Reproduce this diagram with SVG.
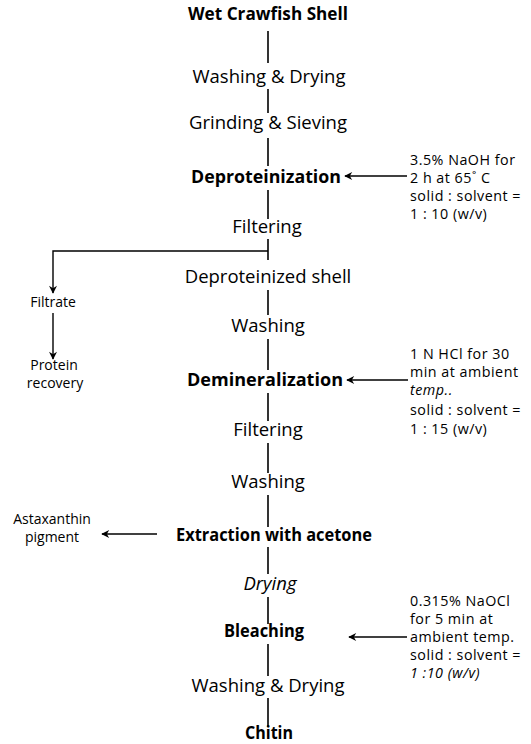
<svg xmlns="http://www.w3.org/2000/svg" width="531" height="744" viewBox="0 0 531 744">
<defs>
<marker id="ah" viewBox="0 0 10 10" refX="9" refY="5" markerWidth="9" markerHeight="8" markerUnits="userSpaceOnUse" orient="auto">
<path d="M0,0 L10,5 L0,10 L3,5 Z" fill="#000"/>
</marker>
<style>
.s{font-family:"Open Sans","Noto Sans",sans-serif;font-size:18.5px;fill:#000;text-anchor:middle}
.b{font-family:"Open Sans","Noto Sans",sans-serif;font-size:17px;font-weight:bold;fill:#000;text-anchor:middle}
.n{font-family:"Open Sans","Noto Sans",sans-serif;font-size:14.3px;letter-spacing:0.5px;fill:#000}
.l{font-family:"Open Sans","Noto Sans",sans-serif;font-size:14px;fill:#000;text-anchor:middle}
.i{font-style:italic}
.c{stroke:#000;stroke-width:1.6;fill:none}
.a{stroke:#000;stroke-width:1.4;fill:none;marker-end:url(#ah)}
</style>
</defs>
<rect width="531" height="744" fill="#fff"/>
<g id="connectors">
<line class="c" x1="268" y1="31" x2="268" y2="63"/>
<line class="c" x1="268" y1="89" x2="268" y2="113"/>
<line class="c" x1="268" y1="138" x2="268" y2="166"/>
<line class="a" x1="407" y1="176" x2="345" y2="176"/>
<line class="c" x1="268" y1="190" x2="268" y2="219"/>
<line class="c" x1="268" y1="239" x2="268" y2="260"/>
<polyline class="a" points="268,251 53,251 53,293"/>
<line class="a" x1="53" y1="313" x2="53" y2="359"/>
<line class="c" x1="268" y1="290" x2="268" y2="315"/>
<line class="c" x1="268" y1="339" x2="268" y2="370"/>
<line class="a" x1="408" y1="380" x2="347" y2="380"/>
<line class="c" x1="268" y1="393" x2="268" y2="421"/>
<line class="c" x1="268" y1="443" x2="268" y2="473"/>
<line class="c" x1="268" y1="495" x2="268" y2="527"/>
<line class="a" x1="157" y1="534" x2="102" y2="534"/>
<line class="c" x1="268" y1="547" x2="268" y2="574"/>
<line class="c" x1="268" y1="597" x2="268" y2="624"/>
<line class="a" x1="407" y1="637" x2="349" y2="637"/>
<line class="c" x1="268" y1="644" x2="268" y2="676"/>
<line class="c" x1="268" y1="698" x2="268" y2="727"/>
</g>
<g id="wet-crawfish-shell"><text class="b" x="268" y="20" textLength="160" lengthAdjust="spacingAndGlyphs">Wet Crawfish Shell</text></g>
<g id="washing-drying-1"><text class="s" x="269" y="83">Washing &amp; Drying</text></g>
<g id="grinding-sieving"><text class="s" x="268" y="129">Grinding &amp; Sieving</text></g>
<g id="deproteinization"><text class="b" x="266" y="183" textLength="150" lengthAdjust="spacingAndGlyphs">Deproteinization</text></g>
<g id="naoh-conditions"><text class="n" x="410" y="165">3.5% NaOH for</text><text class="n" x="410" y="183">2 h at 65˚ C</text><text class="n" x="410" y="201">solid : solvent =</text><text class="n" x="410" y="219">1 : 10 (w/v)</text></g>
<g id="filtering-1"><text class="s" x="267" y="233">Filtering</text></g>
<g id="filtrate"><text class="l" x="53" y="307">Filtrate</text></g>
<g id="protein-recovery"><text class="l" x="54" y="370">Protein</text><text class="l" x="55" y="388">recovery</text></g>
<g id="deproteinized-shell"><text class="s" x="268" y="283">Deproteinized shell</text></g>
<g id="washing-1"><text class="s" x="268" y="332">Washing</text></g>
<g id="demineralization"><text class="b" x="265" y="386" textLength="156" lengthAdjust="spacingAndGlyphs">Demineralization</text></g>
<g id="hcl-conditions"><text class="n" x="410" y="359">1 N HCl for 30</text><text class="n" x="410" y="377">min at ambient</text><text class="n i" x="410" y="395">temp..</text><text class="n" x="410" y="415">solid : solvent =</text><text class="n" x="410" y="434">1 : 15 (w/v)</text></g>
<g id="filtering-2"><text class="s" x="268" y="436">Filtering</text></g>
<g id="washing-2"><text class="s" x="268" y="488">Washing</text></g>
<g id="extraction"><text class="b" x="274" y="541" textLength="196" lengthAdjust="spacingAndGlyphs">Extraction with acetone</text></g>
<g id="astaxanthin"><text class="l" x="52" y="524">Astaxanthin</text><text class="l" x="52" y="542">pigment</text></g>
<g id="drying"><text class="s i" x="270" y="590">Drying</text></g>
<g id="bleaching"><text class="b" x="264" y="637" textLength="80" lengthAdjust="spacingAndGlyphs">Bleaching</text></g>
<g id="naocl-conditions"><text class="n" x="410" y="606">0.315% NaOCl</text><text class="n" x="410" y="624">for 5 min at</text><text class="n" x="410" y="642">ambient temp.</text><text class="n" x="410" y="660">solid : solvent =</text><text class="n i" x="410" y="678">1 :10 (w/v)</text></g>
<g id="washing-drying-2"><text class="s" x="268" y="692">Washing &amp; Drying</text></g>
<g id="chitin"><text class="b" x="269" y="739" textLength="48" lengthAdjust="spacingAndGlyphs">Chitin</text></g>
</svg>
